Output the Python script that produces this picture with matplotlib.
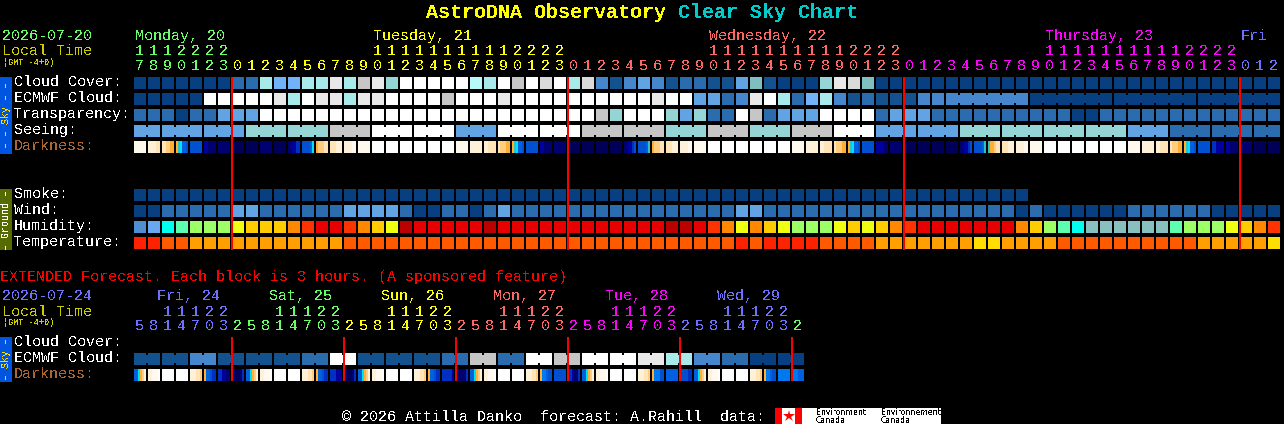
import matplotlib
matplotlib.use("Agg")
import matplotlib.pyplot as plt

plt.rcParams['font.family'] = ['Liberation Mono', 'DejaVu Sans Mono']
plt.rcParams['text.antialiased'] = False

# one letter per forecast hour
cloud_cover = list("NNNNNNNMMC" "kkCCgCGgTW" "WWWWcCWGWs" "WCsBDBLBDM" "MDDLtDNNNT"
                   "gstNNNNNNN" "NNNNNNNNNN" "NNNNNNNNNNNN")
ecmwf_cloud = list("NNNNNWWWWW" "gCWggCggWW" "WWGWWWgWWW" "WWWWWWWgWW" "LLMBgWCMkC"
                   "BDMDDDBB" "BNNN")
ecmwf_spans = [1] * 58 + [6] * 4
transparency = list("MMMNMMLLLW" "WWWWWWWWWW" "WWWWWWWWWW" "WWWGTWWWTL" "TMMWGMLLLW"
                    "WWWMLLLMMM" "MMMMMMMNNM" "MMMMMMMMMMMM")
seeing = list("LLLTTGWWLWWGGTGTGWLLTTTTLMMM")
seeing_spans = [2] + [3] * 26 + [2]
darkness = """pppppp ffffee eeaaoo otcbbi iiiiii ddnnnn nnnnnn mmmmmm mmmmmm nnnnnn
mmmmmm nnddBB iiiibc oaaaee eeefff ffffpp pppppp WWWWWW WWWWWW WWWWWW
WWWWWW WWWWWW WWWWWW pppppp ffffff ffeeee eaaaoo otcbbi iiiiii ddnnnn
nnnnnn mmmmmm mmmmmm mmmmmm mmmmmm nnddBi iiiibt oaaaee eeefff ffffpp
pppppp WWWWWW WWWWWW WWWWWW WWWWWW WWWWWW WWWWWW pppppp ffffff ffeeee
eaaaoo otcbbi iiiiii ddddnn nnnnnn mmmmmm mmmmmm mmmmmm mmmmmm nnddBi
iiiibt tooaee eeefff ffffpp pppppp WWWWWW WWWWWW WWWWWW WWWWWW WWWWWW
WWWWWW pppppp ffffff ffeeee eaaaoo otcbbi iiiiii BBdddd ddnnnn nnnnnn
mmmmmm mmmmmm""".split()

smoke = list("N" * 64)
wind = list("NNMMMMMLLM" "MMMMMLLLLM" "NNMMNMLMMM" "MMMMMMMMMM" "MMMLLMMMMM"
            "MMMMMMMMMM" "MMMNMNNNNN" "NMMMMMMNNNNN")
humidity = list("pqcalllymm" "mohrrhomyd" "rrrrrdrrrr" "rrrrrrrrdd" "rhoyomylll"
                "ymymohrrrr" "rrromlactt" "ttttalllymoh")
temperature = list("rrooaaaaaa" "aaaaaooooo" "oooooooooo" "oooooooooo" "ooororrrro"
                   "oooaaaaaaa" "yyaaaaoooo" "ooooooaaaaay")

hours = [17, 18, 19, 20, 21, 22, 23,
         0, 1, 2, 3, 4, 5, 6, 7, 8, 9, 10, 11, 12, 13, 14, 15, 16, 17, 18, 19, 20, 21, 22, 23,
         0, 1, 2, 3, 4, 5, 6, 7, 8, 9, 10, 11, 12, 13, 14, 15, 16, 17, 18, 19, 20, 21, 22, 23,
         0, 1, 2, 3, 4, 5, 6, 7, 8, 9, 10, 11, 12, 13, 14, 15, 16, 17, 18, 19, 20, 21, 22, 23,
         0, 1, 2]
day_names = ["Monday, 20", "Tuesday, 21", "Wednesday, 22", "Thursday, 23", "Fri"]

# extended forecast, 3 hour blocks
ext_hours = [5, 8, 11, 14, 17, 20, 23,
             2, 5, 8, 11, 14, 17, 20, 23,
             2, 5, 8, 11, 14, 17, 20, 23,
             2, 5, 8, 11, 14, 17, 20, 23,
             2, 5, 8, 11, 14, 17, 20, 23,
             2, 5, 8, 11, 14, 17, 20, 23,
             2]
ext_day_names = ["Fri, 24", "Sat, 25", "Sun, 26", "Mon, 27", "Tue, 28", "Wed, 29"]
ext_ecmwf = list("DDBDDDMWDDDMGMWGWWgCBMNN")
ext_darkness = """bbcoaf ffpppW WWWWWW WWWWWW fffeea obbiBB BBddnn nnmmnB
bbcoaf ffpppW WWWWWW WWWWWW fffeea obbiBB BBBddd nnmmnB
bbcoaf ffpppW WWWWWW WWWWWW fffeea obbiBB BBBBBd nnnnnB
bbcoaf ffpppW WWWWWW WWWWWW fffeea ohhbii iiiiii BBdnnB
bbcoaf ffpppW WWWWWW WWWWWW fffeea ohhhii bbbbbb iiiiBB
bbcoaf ffpppW WWWWWW WWWWWW fffeea ohhbii hhhhhh hhhbbb""".split()

sky_colors = {
    'N': '#073f80', 'D': '#14528f', 'M': '#2b6cae', 'B': '#4686cc', 'L': '#62a3e4',
    'k': '#72b2f8', 'c': '#b8f8f8', 'C': '#a8eaea', 'T': '#95d5d5', 't': '#7fbfbf',
    'G': '#c6c6c6', 's': '#dadada', 'g': '#e8e8e8', 'W': '#ffffff',
}
dark_colors = {
    'W': '#ffffff', 'p': '#fff8ec', 'f': '#fff0d8', 'e': '#ffe4b8', 'a': '#ffcc80',
    'o': '#ffb030', 'c': '#00e0ff', 't': '#30c0c0', 'h': '#0078f0', 'b': '#0060e0',
    'i': '#0050d0', 'B': '#0030c0', 'd': '#0000a0', 'n': '#000070', 'm': '#000058',
}
hum_colors = {
    'p': '#4f8fd0', 'q': '#69a8f0', 'c': '#00ffee', 'a': '#5cffb0', 'l': '#9cff66',
    'y': '#eeff11', 'm': '#ffcc00', 'o': '#ff8800', 'h': '#ff3300', 'r': '#e60000',
    'd': '#bb0000', 't': '#88c0c0',
}
temp_colors = {'r': '#ff2200', 'o': '#ff5a00', 'a': '#ffa000', 'y': '#ffdd00'}
day_colors = ['#66ff66', '#ffff00', '#ff6666', '#ff00ff', '#7070ff']

PITCH = 14
LEFT = 134
CELL = 12

fig = plt.figure(figsize=(12.84, 4.24), dpi=100, facecolor='black')
ax = fig.add_axes([0, 0, 1, 1])
ax.set_xlim(0, 1284)
ax.set_ylim(424, 0)
ax.axis('off')


def put(x, y, s, color='white', size=10.8, **kw):
    # y is the text baseline
    kw.setdefault('va', 'baseline')
    ax.text(x, y, s, color=color, fontsize=size, **kw)


def cell_row(values, palette, top):
    for i, v in enumerate(values):
        ax.bar(LEFT + i * PITCH, CELL, CELL, bottom=top, align='edge',
               color=palette[v], linewidth=0, antialiased=False)


def block_row(values, spans, palette, top):
    # cells of one block are tied together by a thinner bar across the gap
    col = 0
    for v, span in zip(values, spans):
        x = LEFT + col * PITCH
        for j in range(span):
            ax.bar(x + j * PITCH, CELL, CELL, bottom=top, align='edge',
                   color=palette[v], linewidth=0, antialiased=False)
            if j < span - 1:
                ax.bar(x + j * PITCH + CELL, 8, PITCH - CELL, bottom=top + 2, align='edge',
                       color=palette[v], linewidth=0, antialiased=False)
        col += span


def gradient_row(values, top):
    for i, strips in enumerate(values):
        for j, s in enumerate(strips):
            ax.bar(LEFT + i * PITCH + j * CELL / len(strips), CELL, CELL / len(strips),
                   bottom=top, align='edge', color=dark_colors[s], linewidth=0,
                   antialiased=False)


def hour_labels(hrs, y_tens, y_units, first_color):
    day = first_color
    for i, h in enumerate(hrs):
        if i > 0 and h < hrs[i - 1]:
            day += 1
        c = day_colors[day % len(day_colors)]
        if h >= 10:
            put(LEFT + i * PITCH + 5.5, y_tens, str(h // 10), color=c, ha='center')
        put(LEFT + i * PITCH + 5.5, y_units, str(h % 10), color=c, ha='center')


def midnight_lines(hrs, top, bottom):
    for i, h in enumerate(hrs):
        if i > 0 and h < hrs[i - 1]:
            ax.bar(LEFT + i * PITCH - 1, bottom - top, 2, bottom=top, align='edge',
                   color='#ff0000', linewidth=0, antialiased=False, zorder=3)


def side_tab(top, bottom, color, s, text_color):
    ax.bar(0, bottom - top, 12, bottom=top, align='edge', color=color, linewidth=0,
           antialiased=False)
    ax.text(6, (top + bottom) / 2, s, color=text_color, fontsize=7.2, rotation=90,
            ha='center', va='center')


# title
put(426, 18, "AstroDNA Observatory", color='#ffff00', size=14.4, fontweight='bold')
put(678, 18, "Clear Sky Chart", color='#00cccc', size=14.4, fontweight='bold')

# main chart header
put(2, 40, "2026-07-20", color=day_colors[0])
put(2, 55, "Local Time", color='#cccc00')
put(3, 65, "(GMT -4+0)", color='#cccc00', size=6.2)

day = 0
for i, h in enumerate(hours):
    new_day = i == 0 or h < hours[i - 1]
    if new_day and i > 0:
        day += 1
    if (i == 0) or h == 10 or (new_day and 10 not in hours[i:]):
        put(LEFT + i * PITCH + 1, 40, day_names[day], color=day_colors[day])
hour_labels(hours, 55, 70, 0)

# sky block
for y, s, c in [(86, "Cloud Cover:", 'white'), (102, "ECMWF Cloud:", 'white'),
                (118, "Transparency:", 'white'), (134, "Seeing:", 'white'),
                (150, "Darkness:", '#aa6633')]:
    put(14, y, s, color=c)
side_tab(77, 154, '#0055e0', "\u2013 \u2013 Sky \u2013 \u2013", '#ffdd00')
cell_row(cloud_cover, sky_colors, 77)
block_row(ecmwf_cloud, ecmwf_spans, sky_colors, 93)
cell_row(transparency, sky_colors, 109)
block_row(seeing, seeing_spans, sky_colors, 125)
gradient_row(darkness, 141)

# ground block
for y, s in [(198, "Smoke:"), (214, "Wind:"), (230, "Humidity:"), (246, "Temperature:")]:
    put(14, y, s)
side_tab(189, 250, '#556b00', "\u2013 Ground \u2013", 'white')
cell_row(smoke, sky_colors, 189)
cell_row(wind, sky_colors, 205)
cell_row(humidity, hum_colors, 221)
cell_row(temperature, temp_colors, 237)

midnight_lines(hours, 77, 250)

# extended forecast
put(0, 281, "EXTENDED Forecast. Each block is 3 hours. (A sponsored feature)", color='#ff0000')
put(2, 300, "2026-07-24", color=day_colors[4])
put(2, 316, "Local Time", color='#cccc00')
put(3, 325, "(GMT -4+0)", color='#cccc00', size=6.2)
for i, name in enumerate(ext_day_names):
    put(157 + i * 8 * PITCH, 300, name, color=day_colors[(i + 4) % len(day_colors)])
hour_labels(ext_hours, 316, 330, 4)

for y, s, c in [(346, "Cloud Cover:", 'white'), (362, "ECMWF Cloud:", 'white'),
                (378, "Darkness:", '#aa6633')]:
    put(14, y, s, color=c)
side_tab(337, 382, '#0055e0', "\u2013 Sky \u2013", '#ffdd00')
block_row(ext_ecmwf, [2] * len(ext_ecmwf), sky_colors, 353)
gradient_row(ext_darkness, 369)
midnight_lines(ext_hours, 337, 381)

# footer and logo
put(342, 421, "\u00a9 2026 Attilla Danko  forecast: A.Rahill  data:")
ax.bar(775, 16, 166, bottom=408, align='edge', color='white', linewidth=0, antialiased=False)
ax.bar(775, 16, 7, bottom=408, align='edge', color='#ff0000', linewidth=0, antialiased=False)
ax.bar(795, 16, 7, bottom=408, align='edge', color='#ff0000', linewidth=0, antialiased=False)
ax.plot([788.5], [416], marker='*', markersize=9, color='#ff0000', markeredgewidth=0)
for x, a in [(816, "Environment"), (881, "Environnement")]:
    ax.text(x, 415, a, color='black', fontsize=5.6, family='DejaVu Sans')
    ax.text(x, 423, "Canada", color='black', fontsize=5.6, family='DejaVu Sans')

fig.savefig("out.png", dpi=100, facecolor='black')
